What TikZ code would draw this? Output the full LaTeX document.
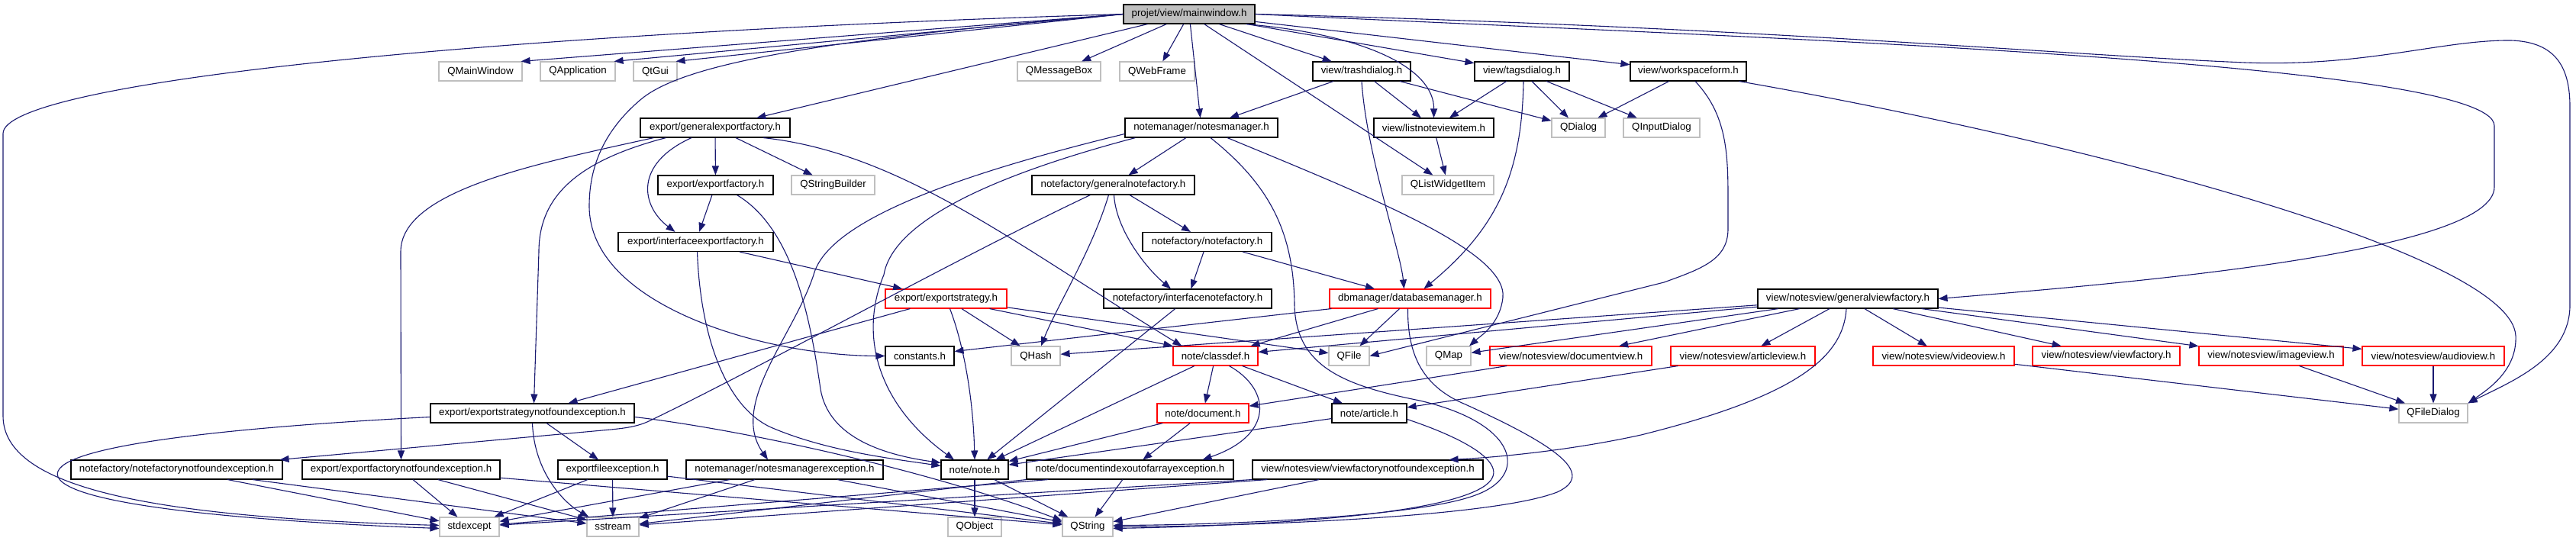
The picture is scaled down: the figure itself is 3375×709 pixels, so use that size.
\documentclass[tikz,border=0pt]{standalone}
\usepackage{fontspec}
\setmainfont{Liberation Sans}
\usetikzlibrary{arrows.meta,calc}
\definecolor{edgeblue}{HTML}{191970}
\definecolor{extgray}{HTML}{BFBFBF}
\definecolor{rootgray}{HTML}{BFBFBF}
\definecolor{truncred}{HTML}{FF0000}
\tikzset{
  base/.style={draw, line width=1.1pt, minimum height=25pt, inner xsep=0pt, inner ysep=0pt,
               fill=white, font=\fontsize{13.3}{16}\selectfont},
  blk/.style={base, draw=black},
  ext/.style={base, draw=extgray},
  trunc/.style={base, draw=truncred},
  root/.style={base, draw=black, fill=rootgray},
  dep/.style={draw=edgeblue, line width=1.1pt, -{Triangle[length=12pt,width=9pt]}}
}
\begin{document}
\begin{tikzpicture}[x=1pt,y=-1pt]
\fill[white] (0,0) rectangle (3375,709);
\useasboundingbox (0,0) rectangle (3375,709);
% row 1
\node[root, minimum width=172] (mw) at (1558,18.5) {projet/view/mainwindow.h};
% row 2
\node[ext, minimum width=109] (qmw) at (629.5,93.5) {QMainWindow};
\node[ext, minimum width=98] (qapp) at (757,93.5) {QApplication};
\node[ext, minimum width=57] (qtgui) at (858.5,93.5) {QtGui};
\node[ext, minimum width=109] (qmb) at (1387.5,93.5) {QMessageBox};
\node[ext, minimum width=98] (qwf) at (1516,93.5) {QWebFrame};
\node[blk, minimum width=128] (td) at (1784,93.5) {view/trashdialog.h};
\node[blk, minimum width=124] (tgd) at (1994,93.5) {view/tagsdialog.h};
\node[blk, minimum width=152] (wsf) at (2212,93.5) {view/workspaceform.h};
% row 3
\node[blk, minimum width=196] (gef) at (937,167.5) {export/generalexportfactory.h};
\node[blk, minimum width=200] (nm) at (1574,167.5) {notemanager/notesmanager.h};
\node[blk, minimum width=157] (lnvi) at (1878.5,167.5) {view/listnoteviewitem.h};
\node[ext, minimum width=70] (qdlg) at (2068,167.5) {QDialog};
\node[ext, minimum width=100] (qidlg) at (2177,167.5) {QInputDialog};
% row 4
\node[blk, minimum width=151] (exf) at (937.5,242.5) {export/exportfactory.h};
\node[ext, minimum width=109] (qsb) at (1091.5,242.5) {QStringBuilder};
\node[blk, minimum width=213] (gnf) at (1458.5,242.5) {notefactory/generalnotefactory.h};
\node[ext, minimum width=120] (qlwi) at (1897,242.5) {QListWidgetItem};
% row 5
\node[blk, minimum width=203] (iexf) at (911.5,317) {export/interfaceexportfactory.h};
\node[blk, minimum width=169] (nf) at (1581.5,317) {notefactory/notefactory.h};
% row 6
\node[trunc, minimum width=159] (es) at (1239.5,391.5) {export/exportstrategy.h};
\node[blk, minimum width=220] (inf) at (1556,391.5) {notefactory/interfacenotefactory.h};
\node[trunc, minimum width=211] (dbm) at (1847.5,391.5) {dbmanager/databasemanager.h};
\node[blk, minimum width=236] (gvf) at (2421,391.5) {view/notesview/generalviewfactory.h};
% row 7
\node[blk, minimum width=90] (cst) at (1205,466.5) {constants.h};
\node[ext, minimum width=64] (qhash) at (1357,466.5) {QHash};
\node[trunc, minimum width=111] (cdef) at (1592.5,466.5) {note/classdef.h};
\node[ext, minimum width=53] (qfile) at (1767.5,466.5) {QFile};
\node[ext, minimum width=58] (qmap) at (1898,466.5) {QMap};
\node[trunc, minimum width=212] (dview) at (2058,466.5) {view/notesview/documentview.h};
\node[trunc, minimum width=189] (aview) at (2283.5,466.5) {view/notesview/articleview.h};
\node[trunc, minimum width=185] (vview) at (2546.5,466.5) {view/notesview/videoview.h};
\node[trunc, minimum width=193] (vfac) at (2759.5,466.5) {view/notesview/viewfactory.h};
\node[trunc, minimum width=189] (iview) at (2975.5,466.5) {view/notesview/imageview.h};
\node[trunc, minimum width=186] (auview) at (3188,466.5) {view/notesview/audioview.h};
% row 8
\node[blk, minimum width=267] (esnfe) at (697.5,541.5) {export/exportstrategynotfoundexception.h};
\node[trunc, minimum width=120] (doc) at (1576,541.5) {note/document.h};
\node[blk, minimum width=98] (art) at (1794,541.5) {note/article.h};
\node[ext, minimum width=90] (qfd) at (3188,541.5) {QFileDialog};
% row 9
\node[blk, minimum width=277] (nfnfe) at (231.5,615.5) {notefactory/notefactorynotfoundexception.h};
\node[blk, minimum width=259] (efnfe) at (525.5,615.5) {export/exportfactorynotfoundexception.h};
\node[blk, minimum width=143] (fexc) at (802.5,615.5) {exportfileexception.h};
\node[blk, minimum width=258] (nme) at (1028,615.5) {notemanager/notesmanagerexception.h};
\node[blk, minimum width=88] (note) at (1277,615.5) {note/note.h};
\node[blk, minimum width=271] (dioe) at (1480.5,615.5) {note/documentindexoutofarrayexception.h};
\node[blk, minimum width=302] (vfnfe) at (1792,615.5) {view/notesview/viewfactorynotfoundexception.h};
% row 10
\node[ext, minimum width=78] (stdx) at (615,690.5) {stdexcept};
\node[ext, minimum width=68] (sstr) at (803,690.5) {sstream};
\node[ext, minimum width=70] (qobj) at (1277,690.5) {QObject};
\node[ext, minimum width=66] (qstr) at (1425,690.5) {QString};

% ---- edges from mainwindow
\draw[dep] (mw.west) .. controls (600,45) and (4,110) .. (4,175) -- (4,545) .. controls (4,640) and (200,678) .. ([yshift=2pt]stdx.west);
\draw[dep] (mw.west) -- ([xshift=-2pt]qmw.north east);
\draw[dep] (mw.west) -- ([xshift=-2pt]qapp.north east);
\draw[dep] (mw.west) -- ([xshift=-2pt]qtgui.north east);
\draw[dep] (mw.west) .. controls (1100,50) and (900,80) .. (840,130) .. controls (790,172) and (772,220) .. (772,270) .. controls (772,400) and (1000,466) .. (cst.west);
\draw[dep] (mw) -- (gef);
\draw[dep] (mw) -- (qmb);
\draw[dep] (mw) -- (qwf);
\draw[dep] (mw) -- (nm);
\draw[dep] (mw) -- (td);
\draw[dep] (mw) -- (tgd);
\draw[dep] (mw) -- (wsf);
\draw[dep] (mw) -- (qlwi);
\draw[dep] (mw.-10) .. controls (1790,45) and (1879,90) .. (lnvi.north);
\draw[dep] (mw.east) .. controls (2300,50) and (3268,80) .. (3268,165) -- (3268,245) .. controls (3268,330) and (2800,370) .. (gvf.east);
\draw[dep] (mw.east) .. controls (2300,35) and (2700,72) .. (2941,82) .. controls (3100,88) and (3200,52) .. (3290,53) .. controls (3350,55) and (3367,90) .. (3367,140) -- (3367,400) .. controls (3367,470) and (3290,500) .. (qfd.north east);

% ---- generalexportfactory
\draw[dep] (gef) -- (exf);
\draw[dep] (gef) -- (qsb);
\draw[dep] ([xshift=-31pt]gef.south) .. controls (830,215) and (840,270) .. ([xshift=-27pt]iexf.north);
\draw[dep] ([xshift=63pt]gef.south) .. controls (1180,200) and (1330,320) .. ([xshift=12pt]cdef.north west);
\draw[dep] ([xshift=18pt]gef.south west) .. controls (700,215) and (525,250) .. (525,330) -- (efnfe.north);
\draw[dep] ([xshift=34pt]gef.south west) .. controls (760,210) and (706,255) .. (706,330) -- ([xshift=2pt]esnfe.north);

% ---- exportfactory / interfaceexportfactory
\draw[dep] (exf) -- (iexf);
\draw[dep] ([xshift=28pt]exf.south) .. controls (1040,300) and (1062,420) .. (1075,510) .. controls (1085,570) and (1150,595) .. ([yshift=9pt]note.west);
\draw[dep] (iexf) -- (es);
\draw[dep] ([xshift=2pt]iexf.south) .. controls (918,450) and (955,535) .. (1010,560) .. controls (1080,590) and (1160,600) .. ([yshift=5pt]note.west);

% ---- notesmanager
\draw[dep] (nm) -- (gnf);
\draw[dep] ([yshift=-8pt]nm.west) .. controls (1250,230) and (1085,290) .. (1066,360) .. controls (1040,440) and (955,530) .. ([xshift=-22pt]nme.north);
\draw[dep] ([xshift=14pt]nm.south west) .. controls (1300,230) and (1170,290) .. (1158,360) .. controls (1125,440) and (1150,530) .. ([xshift=-27pt]note.north);
\draw[dep] ([xshift=34pt]nm.south) .. controls (1800,260) and (1975,330) .. (1969,390) .. controls (1965,425) and (1940,440) .. ([xshift=27pt]qmap.north);
\draw[dep] ([xshift=12pt]nm.south) .. controls (1660,240) and (1695,300) .. (1696,400) .. controls (1698,480) and (1760,505) .. (1860,525) .. controls (1990,555) and (2005,625) .. (1930,650) .. controls (1850,678) and (1600,688) .. ([yshift=2pt]qstr.east);

% ---- dialogs
\draw[dep] (td) -- (nm);
\draw[dep] (td) -- (lnvi);
\draw[dep] (td) -- (qdlg);
\draw[dep] (td.south) .. controls (1790,200) and (1835,330) .. ([xshift=-8pt]dbm.north);
\draw[dep] (tgd) -- (lnvi);
\draw[dep] (tgd) -- (qdlg);
\draw[dep] (tgd) -- (qidlg);
\draw[dep] ([xshift=2pt]tgd.south) .. controls (1994,230) and (1960,300) .. ([xshift=18pt]dbm.north);
\draw[dep] (wsf) -- (qdlg);
\draw[dep] ([xshift=9pt]wsf.south) .. controls (2262,150) and (2264,200) .. (2264,260) -- (2264,300) .. controls (2264,340) and (2230,352) .. (2180,370) -- (qfile.east);
\draw[dep] ([xshift=-10pt]wsf.south east) .. controls (2700,180) and (3290,330) .. (3296,440) .. controls (3298,485) and (3260,510) .. (qfd.north east);
\draw[dep] (lnvi) -- (qlwi);

% ---- note factories
\draw[dep] (gnf) -- (nf);
\draw[dep] ([xshift=1pt]gnf.south) .. controls (1462,300) and (1500,350) .. ([xshift=-22pt]inf.north);
\draw[dep] ([xshift=-6pt]gnf.south) .. controls (1430,330) and (1385,400) .. ([xshift=7pt]qhash.north);
\draw[dep] ([xshift=77pt]gnf.south west) .. controls (1250,340) and (1000,480) .. (850,552) .. controls (835,559) and (820,561) .. (800,563) -- ([xshift=-4pt]nfnfe.north east);
\draw[dep] (nf) -- (inf);
\draw[dep] (nf) -- (dbm);
\draw[dep] (inf) -- (note);

% ---- exportstrategy
\draw[dep] (es) -- (esnfe);
\draw[dep] ([xshift=5pt]es.south) .. controls (1262,450) and (1275,520) .. (note.north);
\draw[dep] (es) -- (qhash);
\draw[dep] ([xshift=-23pt]es.south east) -- (cdef.north west);
\draw[dep] (es) -- (qfile);

% ---- databasemanager
\draw[dep] ([xshift=3pt]dbm.south west) -- ([yshift=6pt]cst.east);
\draw[dep] ([xshift=-42pt]dbm.south) -- ([xshift=-10pt]cdef.north east);
\draw[dep] (dbm) -- (qfile);
\draw[dep] ([xshift=-3pt]dbm.south) .. controls (1844,460) and (1860,505) .. (1920,530) .. controls (2030,580) and (2095,620) .. (2040,645) .. controls (1950,680) and (1600,690) .. (qstr.east);

% ---- classdef, document, article
\draw[dep] (cdef) -- (note);
\draw[dep] (cdef) -- (doc);
\draw[dep] ([xshift=18pt]cdef.south) .. controls (1665,510) and (1670,570) .. ([xshift=-41pt]dioe.north east);
\draw[dep] (cdef) -- (art);
\draw[dep] (doc) -- (note);
\draw[dep] (doc) -- (dioe);
\draw[dep] (dview) -- (doc);
\draw[dep] (aview) -- (art);
\draw[dep] (art) -- (note);
\draw[dep] ([yshift=-8pt]art.east) .. controls (1920,575) and (1990,612) .. (1940,640) .. controls (1870,680) and (1600,690) .. ([yshift=-2pt]qstr.east);

% ---- generalviewfactory
\draw[dep] (gvf) -- (qhash);
\draw[dep] (gvf) -- (cdef);
\draw[dep] (gvf) -- (qmap);
\draw[dep] (gvf) -- (dview);
\draw[dep] (gvf) -- (aview);
\draw[dep] (gvf) -- (vview);
\draw[dep] (gvf) -- (vfac);
\draw[dep] (gvf) -- (iview);
\draw[dep] (gvf) -- (auview);
\draw[dep] ([xshift=-2pt]gvf.south) .. controls (2415,470) and (2350,520) .. (2150,570) .. controls (2050,592) and (1950,600) .. ([xshift=-45pt]vfnfe.north east);
\draw[dep] (vview) -- (qfd);
\draw[dep] (iview) -- (qfd);
\draw[dep] (auview) -- (qfd);

% ---- exceptions
\draw[dep] ([yshift=-5pt]esnfe.west) .. controls (300,560) and (60,585) .. (76,625) .. controls (95,668) and (400,686) .. ([yshift=-2pt]stdx.west);
\draw[dep] (esnfe.south) .. controls (700,620) and (740,660) .. ([xshift=3pt]sstr.north west);
\draw[dep] (esnfe) -- (fexc);
\draw[dep] ([yshift=-5pt]esnfe.east) .. controls (950,560) and (1200,610) .. ([yshift=8pt]qstr.west);
\draw[dep] (nfnfe) -- (stdx);
\draw[dep] (nfnfe) -- (sstr);
\draw[dep] (efnfe) -- (stdx);
\draw[dep] (efnfe) -- (sstr);
\draw[dep] (efnfe) -- (qstr);
\draw[dep] (fexc) -- (stdx);
\draw[dep] (fexc) -- (sstr);
\draw[dep] (fexc) -- (qstr);
\draw[dep] (nme) -- (stdx);
\draw[dep] (nme) -- (sstr);
\draw[dep] (nme) -- (qstr);
\draw[dep] (note) -- (qobj);
\draw[dep] (note) -- (qstr);
\draw[dep] (dioe) -- (qstr);
\draw[dep] ([xshift=29pt]dioe.south west) -- (stdx);
\draw[dep] (dioe.south west) -- (sstr);
\draw[dep] (vfnfe.south west) -- (stdx);
\draw[dep] ([xshift=20pt]vfnfe.south west) -- (sstr);
\draw[dep] (vfnfe) -- (qstr);
\end{tikzpicture}
\end{document}
